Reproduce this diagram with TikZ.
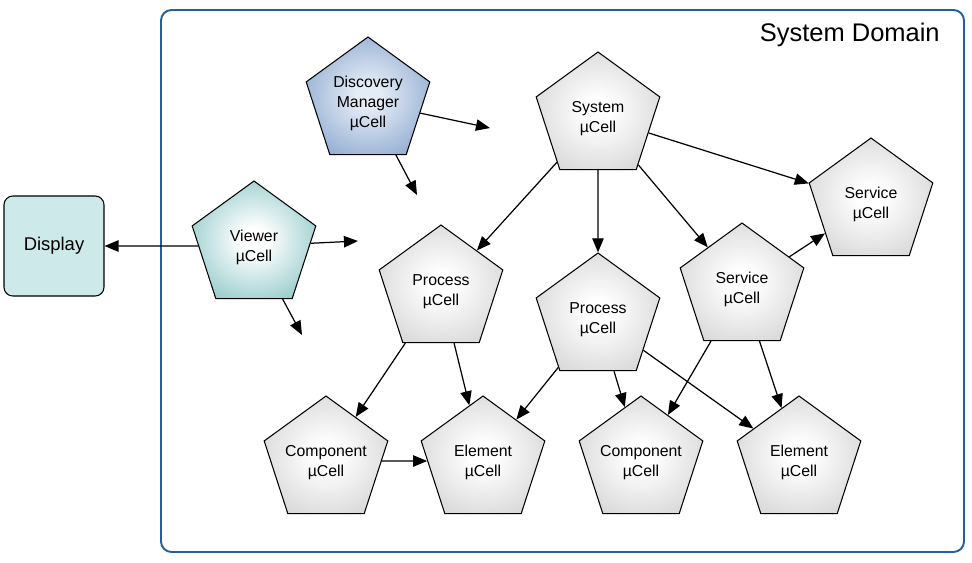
\documentclass[tikz,border=0pt]{standalone}
\usepackage{fontspec}
\setmainfont{Liberation Sans}
\usetikzlibrary{shapes.geometric,arrows.meta}

\definecolor{cellgray}{RGB}{192,192,192}
\definecolor{cellblue}{RGB}{104,140,190}
\definecolor{bluecore}{RGB}{228,236,246}
\definecolor{cellteal}{RGB}{96,176,176}
\definecolor{dispfill}{RGB}{205,233,233}
\definecolor{domainblue}{RGB}{32,96,160}

\pgfdeclareradialshading{grayshade}{\pgfpoint{0bp}{0bp}}{color(0bp)=(white); color(5bp)=(white); color(44bp)=(cellgray); color(50bp)=(cellgray)}
\pgfdeclareradialshading{blueshade}{\pgfpoint{0bp}{0bp}}{color(0bp)=(bluecore); color(5bp)=(bluecore); color(42bp)=(cellblue); color(50bp)=(cellblue)}
\pgfdeclareradialshading{tealshade}{\pgfpoint{0bp}{0bp}}{color(0bp)=(white); color(5bp)=(white); color(42bp)=(cellteal); color(50bp)=(cellteal)}

\begin{document}
\begin{tikzpicture}[x=0.02cm, y=-0.02cm, >={Triangle[length=8pt,width=6.5pt]},
  cell/.style = {draw, regular polygon, regular polygon sides=5, minimum size=2.6cm, inner sep=-8pt, align=center, font=\fontsize{9}{11.3}\selectfont, text depth=-1.5pt, line width=0.6pt, shading=grayshade}]
\useasboundingbox (0,0) rectangle (972,562);
\draw[domainblue, line width=1.1pt, rounded corners=6pt] (161,10) rectangle (964,552);
\node[anchor=east, inner sep=0pt, font=\fontsize{14.5}{16}\selectfont] (title) at (940,35) {System Domain};
\node[draw, line width=0.6pt, rounded corners=5pt, fill=dispfill, minimum width=2cm, minimum height=2cm, font=\fontsize{10.5}{12}\selectfont] (0) at (54,246) {Display};
\node[cell, shading=blueshade] (1) at (368,102) {Discovery\\Manager\\µCell};
\node[cell, shading=tealshade] (2) at (254,246) {Viewer\\µCell};
\node[cell] (3) at (598,117) {System\\µCell};
\node[cell] (4) at (871,203) {Service\\µCell};
\node[cell] (5) at (742,288) {Service\\µCell};
\node[cell] (6) at (441,290) {Process\\µCell};
\node[cell] (7) at (598,318) {Process\\µCell};
\node[cell] (8) at (326,461) {Component\\µCell};
\node[cell] (9) at (483,461) {Element\\µCell};
\node[cell] (10) at (641,461) {Component\\µCell};
\node[cell] (11) at (799,461) {Element\\µCell};
\coordinate (a) at (358,241);
\coordinate (b) at (302,335);
\coordinate (c) at (490,128);
\coordinate (d) at (417,195);
\draw[->, line width=0.7pt] (2) -- (0);
\draw[->, line width=0.7pt] (2) -- (a);
\draw[->, line width=0.7pt] (2) -- (b);
\draw[->, line width=0.7pt] (1) -- (c);
\draw[->, line width=0.7pt] (1) -- (d);
\draw[->, line width=0.7pt] (3) -- (6);
\draw[->, line width=0.7pt] (3) -- (7);
\draw[->, line width=0.7pt] (3) -- (5);
\draw[->, line width=0.7pt] (3) -- (4);
\draw[->, line width=0.7pt] (5) -- (4);
\draw[->, line width=0.7pt] (6) -- (8);
\draw[->, line width=0.7pt] (6) -- (9);
\draw[->, line width=0.7pt] (7) -- (9);
\draw[->, line width=0.7pt] (7) -- (10);
\draw[->, line width=0.7pt] (7) -- (11);
\draw[->, line width=0.7pt] (5) -- (10);
\draw[->, line width=0.7pt] (5) -- (11);
\draw[->, line width=0.7pt] (8) -- (9);
\end{tikzpicture}
\end{document}
